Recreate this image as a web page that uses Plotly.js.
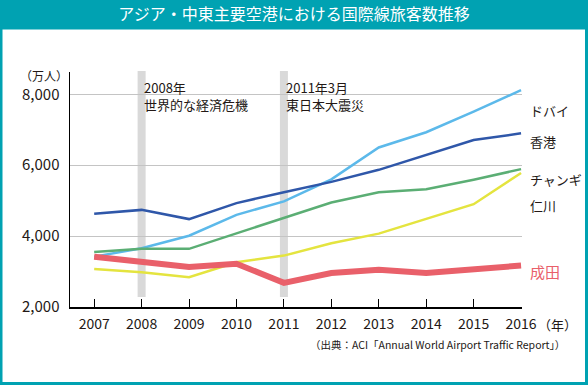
<!DOCTYPE html>
<html><head><meta charset="utf-8">
<script src="https://cdn.plot.ly/plotly-3.0.1.min.js"></script>
<style>html,body{margin:0;padding:0;background:#fff}#c{width:588px;height:385px}</style>
</head><body><div id="c"></div>
<script>
const years = [2007,2008,2009,2010,2011,2012,2013,2014,2015,2016];
const dubai    = [3420,3660,4010,4600,4980,5600,6500,6930,7510,8120];
const hongkong = [4630,4740,4480,4930,5240,5530,5870,6290,6710,6900];
const changi   = [3550,3640,3640,4080,4510,4950,5240,5320,5590,5890];
const incheon  = [3070,2980,2840,3260,3450,3800,4070,4480,4900,5780];
const narita   = [3420,3290,3130,3220,2680,2960,3050,2960,3050,3170];
const seriesNames = ['ドバイ','香港','チャンギ','仁川','成田'];
const eventYears = [2008, 2011];
const eventLabels = ['2008年<br>世界的な経済危機','2011年3月<br>東日本大震災'];
const yTicks = [2000,4000,6000,8000];
const yTickText = ['2,000','4,000','6,000','8,000'];

const W=588,H=385, L=70, R=522, T=72, B=307;
const px=x=>(x-L)/(R-L), py=y=>(B-y)/(B-T);
const font='"Noto Sans CJK JP", "Noto Sans", sans-serif';
const ink='#231815', teal='#00a2b2';
const colors=['#5cb9ea','#2f57a9','#5bae74','#e4e43f','#e9606a'];
const data=[dubai,hongkong,changi,incheon,narita];
const traces=data.map((d,i)=>({x:years,y:d,type:'scatter',mode:'lines',name:seriesNames[i],
  line:{color:colors[i],width:i===4?6:2.5},hoverinfo:'skip'}));

const shapes=[
 {type:'rect',xref:'paper',yref:'paper',x0:px(0),x1:px(W),y0:py(0),y1:py(28),fillcolor:teal,line:{width:0},layer:'below'},
 {type:'rect',xref:'paper',yref:'paper',x0:px(1),x1:px(586.5),y0:py(28),y1:py(383.5),line:{color:teal,width:3},fillcolor:'rgba(0,0,0,0)'}
];
eventYears.forEach(yr=>shapes.push({type:'line',xref:'x',yref:'paper',x0:yr,x1:yr,y0:py(297),y1:py(71),
  line:{color:'#d9d9d9',width:8},layer:'below'}));

const labelY=[110,141,179,206,271];
const annotations=seriesNames.map((n,i)=>({xref:'paper',yref:'paper',x:px(528),y:py(labelY[i]),xanchor:'left',yanchor:'middle',
  text:n,showarrow:false,font:{family:font,size:i===4?15:13,color:i===4?colors[4]:ink}}));
eventYears.forEach((yr,i)=>annotations.push({xref:'x',yref:'paper',x:yr,y:py(76),xanchor:'left',yanchor:'top',align:'left',
  text:eventLabels[i],showarrow:false,font:{family:font,size:13,color:ink}}));
annotations.push({xref:'paper',yref:'paper',x:px(44),y:py(75),xanchor:'center',yanchor:'middle',text:'（万人）',showarrow:false,font:{family:font,size:12,color:ink}});
annotations.push({xref:'paper',yref:'paper',x:px(536),y:py(324),xanchor:'left',yanchor:'middle',text:'（年）',showarrow:false,font:{family:font,size:13,color:ink}});
annotations.push({xref:'paper',yref:'paper',x:px(567),y:py(344),xanchor:'right',yanchor:'middle',text:'（出典：ACI「Annual World Airport Traffic Report」）',showarrow:false,font:{family:font,size:10.5,color:ink}});

const layout={width:W,height:H,margin:{l:L,r:W-R,t:T,b:H-B},paper_bgcolor:'#fff',plot_bgcolor:'#fff',showlegend:false,
 title:{text:'アジア・中東主要空港における国際線旅客数推移',x:0.5,xanchor:'center',y:1-14/H,yanchor:'middle',font:{family:font,size:16,color:'#fff'}},
 xaxis:{range:[2006.49,2016.02],tickvals:years,ticktext:years.map(String),ticks:'inside',ticklen:8,tickcolor:'#000',tickwidth:1,
   showline:true,linecolor:'#000',linewidth:1.5,showgrid:false,zeroline:false,tickfont:{family:font,size:14,color:ink},ticklabelstandoff:4},
 yaxis:{range:[2000,8630],tickvals:yTicks,ticktext:yTickText,ticks:'',showline:true,linecolor:'#000',linewidth:1.5,
   showgrid:true,gridcolor:'#c4c4c4',gridwidth:1,zeroline:false,tickfont:{family:font,size:15,color:ink},ticklabelstandoff:6},
 shapes:shapes,annotations:annotations,font:{family:font,color:ink}};
Plotly.newPlot('c',traces,layout,{displayModeBar:false,staticPlot:true});
</script></body></html>
